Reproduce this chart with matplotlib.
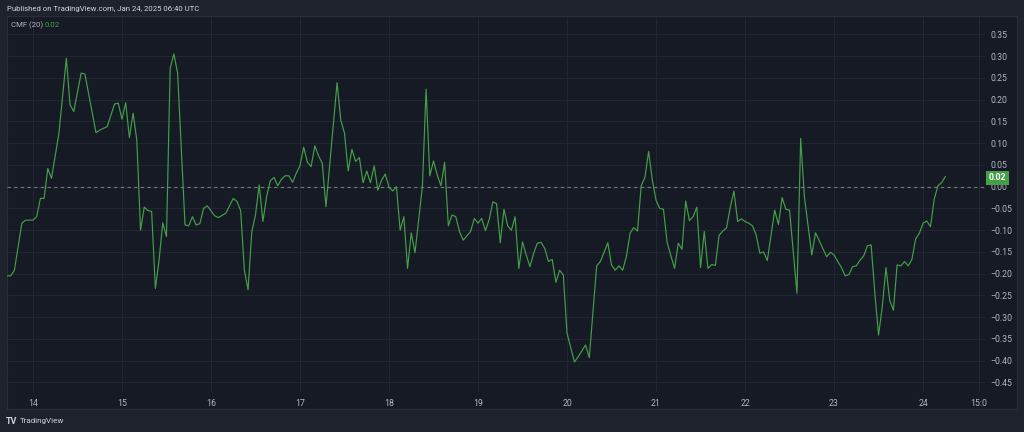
import matplotlib
matplotlib.use("Agg")
import matplotlib.pyplot as plt
from matplotlib.patches import Rectangle

# hours since 14 Jan 00:00 UTC and Chaikin Money Flow (20) values
hours = [-7, -6, -5, -3, -2, 0, 1, 2, 3, 4, 5, 7, 9, 10, 11, 13, 14, 17, 18, 20,
         22, 23, 24, 25, 26, 27, 28, 29, 30, 31, 32, 33, 34, 35, 36, 37, 38, 39, 41, 42,
         43, 44, 45, 46, 47, 49, 50, 52, 54, 55, 56, 57, 58, 59, 60, 61, 62, 63, 64, 65,
         66, 67, 68, 69, 70, 71, 72, 73, 74, 75, 76, 77, 78, 79, 82, 83, 84, 85, 86, 87,
         88, 89, 90, 91, 92, 93, 94, 95, 96, 97, 98, 99, 100, 101, 102, 103, 105, 106, 107, 108,
         109, 110, 111, 112, 113, 114, 115, 116, 117, 118, 119, 120, 121, 122, 123, 124, 125, 126, 127, 128,
         129, 130, 131, 132, 133, 134, 135, 136, 137, 138, 139, 140, 141, 142, 143, 144, 146, 147, 149, 150,
         152, 153, 155, 156, 157, 158, 159, 160, 161, 162, 163, 164, 165, 166, 167, 168, 169, 170, 171, 173,
         174, 175, 176, 177, 178, 179, 180, 181, 182, 183, 184, 185, 186, 187, 188, 189, 190, 191, 192, 193,
         194, 195, 196, 197, 198, 200, 201, 202, 203, 204, 206, 207, 208, 210, 211, 212, 214, 215, 216, 217,
         218, 219, 220, 221, 222, 223, 224, 225, 226, 227, 228, 229, 230, 231, 232, 233, 234, 235, 236, 237,
         238, 239, 240, 241, 242, 243, 244, 245, 246]
cmf = [-0.205, -0.205, -0.192, -0.084, -0.077, -0.077, -0.069, -0.027, -0.027, 0.042, 0.019, 0.123, 0.295, 0.188, 0.173, 0.261, 0.259, 0.124, 0.130, 0.138,
       0.190, 0.192, 0.155, 0.193, 0.113, 0.169, 0.107, -0.100, -0.047, -0.055, -0.057, -0.234, -0.169, -0.083, -0.115, 0.272, 0.305, 0.261, -0.088, -0.090,
       -0.069, -0.088, -0.085, -0.050, -0.044, -0.067, -0.071, -0.061, -0.027, -0.034, -0.055, -0.192, -0.237, -0.104, -0.065, 0.004, -0.080, -0.023, 0.014, 0.021,
       0.002, 0.017, 0.025, 0.025, 0.010, 0.031, 0.048, 0.091, 0.056, 0.046, 0.094, 0.071, 0.054, -0.046, 0.239, 0.153, 0.123, 0.036, 0.086, 0.058,
       0.067, 0.009, 0.036, 0.009, 0.048, -0.008, 0.015, 0.029, -0.001, -0.010, 0.000, -0.100, -0.069, -0.188, -0.106, -0.152, 0.000, 0.224, 0.025, 0.059,
       0.027, 0.002, 0.056, -0.090, -0.065, -0.069, -0.103, -0.123, -0.113, -0.103, -0.073, -0.084, -0.073, -0.101, -0.076, -0.035, -0.039, -0.129, -0.052, -0.090,
       -0.100, -0.069, -0.188, -0.127, -0.157, -0.184, -0.153, -0.130, -0.128, -0.142, -0.172, -0.167, -0.220, -0.192, -0.203, -0.337, -0.403, -0.391, -0.364, -0.393,
       -0.182, -0.172, -0.129, -0.180, -0.192, -0.182, -0.192, -0.161, -0.107, -0.094, -0.102, 0.002, 0.021, 0.081, 0.015, -0.031, -0.050, -0.052, -0.129, -0.188,
       -0.130, -0.144, -0.033, -0.078, -0.069, -0.047, -0.186, -0.103, -0.188, -0.179, -0.181, -0.112, -0.102, -0.095, -0.048, -0.010, -0.080, -0.074, -0.080, -0.084,
       -0.090, -0.111, -0.153, -0.150, -0.170, -0.054, -0.087, -0.025, -0.052, -0.054, -0.245, 0.111, -0.023, -0.157, -0.106, -0.124, -0.161, -0.151, -0.157, -0.172,
       -0.186, -0.205, -0.202, -0.184, -0.182, -0.169, -0.159, -0.136, -0.134, -0.245, -0.341, -0.276, -0.186, -0.261, -0.284, -0.180, -0.182, -0.172, -0.182, -0.167,
       -0.120, -0.107, -0.084, -0.079, -0.092, -0.029, 0.002, 0.009, 0.023]

day_ticks = [0, 24, 48, 72, 96, 120, 144, 168, 192, 216, 240, 255]
day_labels = ["14", "15", "16", "17", "18", "19", "20", "21", "22", "23", "24", "15:0"]
price_ticks = [0.35, 0.30, 0.25, 0.20, 0.15, 0.10, 0.05, 0.00, -0.05, -0.10,
               -0.15, -0.20, -0.25, -0.30, -0.35, -0.40, -0.45]
last_value = 0.02

plt.rcParams["font.family"] = ["Roboto", "DejaVu Sans"]

W, H = 1024, 432
outer_bg = "#1e222d"
pane_bg = "#161a25"
grid_c = "#222633"
text_c = "#b2b5be"
green = "#43a047"

fig = plt.figure(figsize=(W / 100, H / 100), dpi=100, facecolor=outer_bg)
fig.patches.append(Rectangle((7 / W, 1 - 409 / H), (1017 - 7) / W, (409 - 16) / H,
                             transform=fig.transFigure, facecolor=pane_bg,
                             edgecolor="#2a2e39", linewidth=0.8, zorder=-5))

ax = fig.add_axes([7 / W, 1 - 392 / H, (985 - 7) / W, (392 - 17) / H])
ax.set_zorder(2)
ax.set_facecolor("none")
ax.plot(hours, cmf, color=green, linewidth=0.85, zorder=3)
ax.axhline(0, color="#787b86", linewidth=0.8, dashes=(3, 3), zorder=2)

ax.set_xlim(-7, 256.7)
ax.set_ylim(-0.472, 0.390)

ax.set_xticks(day_ticks)
ax.set_xticklabels(day_labels)
ax.set_yticks(price_ticks)
ax.set_yticklabels(["%.2f" % v if v >= 0 else "\u2212%.2f" % -v for v in price_ticks])
ax.yaxis.tick_right()
ax.tick_params(axis="both", length=0, labelsize=6.3, colors=text_c)
ax.tick_params(axis="x", pad=5)
ax.tick_params(axis="y", pad=4)
ax.grid(True, color=grid_c, linewidth=0.8)
ax.set_axisbelow(True)
for s in ax.spines.values():
    s.set_visible(False)

# last value badge on the price scale
ax.annotate("%.2f" % last_value, xy=(1, last_value), xycoords=("axes fraction", "data"),
            xytext=(2.5, 0), textcoords="offset points", ha="left", va="center",
            fontsize=6.3, color="white", fontweight="bold",
            bbox=dict(boxstyle="square,pad=0.3", facecolor=green, edgecolor="none"))

fig.text(7 / W, 1 - 9 / H, "Published on TradingView.com, Jan 24, 2025 06:40 UTC",
         fontsize=5.6, color="#d1d4dc", va="center", ha="left")
fig.text(11 / W, 1 - 25 / H, "CMF (20)", fontsize=5.6, color=text_c, va="center", ha="left")
fig.text(45 / W, 1 - 25 / H, "%.2f" % last_value, fontsize=5.6, color=green, va="center", ha="left")
fig.text(6 / W, 1 - 421 / H, "TV", fontsize=6.5, color="#d1d4dc", fontweight="bold",
         va="center", ha="left")
fig.text(20 / W, 1 - 421 / H, "TradingView", fontsize=5.8, color="#d1d4dc", va="center", ha="left")

fig.savefig("out.png", dpi=100, facecolor=outer_bg)
